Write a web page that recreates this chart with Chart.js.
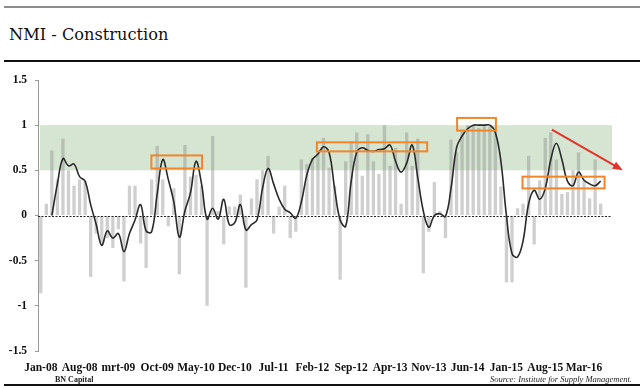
<!DOCTYPE html>
<html>
<head>
<meta charset="utf-8">
<script src="https://cdn.jsdelivr.net/npm/chart.js@4"></script>
<style>
  html, body { margin: 0; padding: 0; background: #fff; }
  #wrap { position: relative; width: 640px; height: 388px; overflow: hidden; }
  #chart { position: absolute; left: 0; top: 0; }
  .rule { position: absolute; left: 4px; right: 0; }
  .title { position: absolute; left: 9px; top: 26px; font: 16.2px "DejaVu Serif", serif; line-height: 18px; color: #111; white-space: nowrap; }
  .brand { position: absolute; left: 55px; top: 375px; font: bold 8px "Liberation Serif", serif; color: #222; }
  .source { position: absolute; right: 8px; top: 374px; font: italic 8.5px "Liberation Serif", serif; color: #222; }
</style>
</head>
<body>
<div id="wrap">
  <div class="rule" style="top:6px;height:2px;background:#8c8c8c"></div>
  <div class="title">NMI - Construction</div>
  <div class="rule" style="top:60px;height:2px;background:#111"></div>
  <canvas id="chart" width="640" height="388"></canvas>
  <div class="brand">BN Capital</div>
  <div class="source">Source: Institute for Supply Management.</div>
  <div class="rule" style="top:384px;height:2px;background:#111"></div>
</div>
<script>
// monthly categories Jan-08 .. Jul-16
const monthNames = ['Jan', 'Feb', 'Mar', 'Apr', 'May', 'Jun', 'Jul', 'Aug', 'Sep', 'Oct', 'Nov', 'Dec'];
const categories = [];
for (let y = 8; y <= 16; y++) {
    monthNames.forEach((m, k) => {
        if (y === 16 && k > 6) return;
        categories.push(m + '-' + String(y).padStart(2, '0'));
    });
}

// labels shown under the axis, one every 7 months
const xTickLabels = ['Jan-08', 'Aug-08', 'mrt-09', 'Oct-09', 'May-10', 'Dec-10', 'Jul-11', 'Feb-12',
    'Sep-12', 'Apr-13', 'Nov-13', 'Jun-14', 'Jan-15', 'Aug-15', 'Mar-16'];
const yTicks = [-1.5, -1, -0.5, 0, 0.5, 1, 1.5];

// monthly index values (grey bars)
const monthly = [
    -0.86, 0.13, 0.72, 0.40, 0.85, 0.50, 0.33, 0.40, 0.38, -0.68,
    -0.20, -0.30, -0.25, -0.36, -0.15, -0.73, 0.33, 0.33, -0.31, -0.58,
    0.40, 0.77, 0.40, -0.12, 0.30, -0.65, 0.78, 0.43, 0.45, 0.33,
    -1.00, 0.88, 0.05, -0.32, 0.10, 0.10, 0.23, -0.80, 0.19, 0.40,
    0.50, 0.66, -0.20, 0.10, 0.33, -0.25, -0.18, 0.62, 0.57, 0.64,
    0.70, 0.86, 0.53, 0.33, -0.71, 0.60, 0.82, 0.92, 0.44, 0.90,
    0.60, 0.46, 1.00, 0.55, 0.75, 0.13, 0.92, 0.55, 0.85, -0.64,
    -0.18, 0.37, 0.05, -0.25, 0.84, 0.70, 0.95, 1.00, 1.00, 0.97,
    1.00, 0.98, 0.95, 0.32, -0.74, -0.74, 0.08, 0.13, 0.66, -0.32,
    0.39, 0.86, 0.92, 0.62, 0.24, 0.26, 0.50, 0.70, 0.39, 0.19,
    0.62, 0.13
];

// smoothed trend (black line)
const trend = [
    null, null, 0.00, 0.35, 0.63, 0.55, 0.57, 0.43, 0.38, 0.12,
    -0.10, -0.33, -0.17, -0.25, -0.20, -0.40, -0.20, -0.05, 0.12, -0.17,
    -0.18, 0.24, 0.62, 0.40, 0.15, -0.24, 0.05, 0.25, 0.60, 0.35,
    -0.04, 0.08, -0.04, 0.18, -0.10, -0.08, 0.12, -0.16, -0.10, -0.05,
    0.30, 0.52, 0.35, 0.18, 0.07, 0.03, -0.03, 0.15, 0.45, 0.62,
    0.68, 0.76, 0.70, 0.30, -0.05, -0.12, 0.38, 0.70, 0.75, 0.72,
    0.71, 0.73, 0.74, 0.78, 0.60, 0.48, 0.58, 0.78, 0.42, 0.05,
    -0.13, 0.00, 0.02, -0.01, 0.30, 0.75, 0.88, 0.96, 1.00, 1.00,
    1.00, 1.00, 0.92, 0.60, 0.00, -0.42, -0.46, -0.28, 0.13, 0.28,
    0.18, 0.30, 0.62, 0.80, 0.62, 0.38, 0.33, 0.48, 0.39, 0.35,
    0.33, 0.38
];

// highlighted zones: [fromIndex, toIndex, low, high]
const boxes = [
    [19.95, 29.1, 0.52, 0.665],
    [49.8, 69.7, 0.71, 0.81],
    [75.1, 82.1, 0.94, 1.08],
    [86.9, 101.7, 0.30, 0.43]
];
const arrow = { from: [92.2, 0.95], to: [105, 0.5] };

const bandPlugin = {
    id: 'band',
    beforeDatasetsDraw(chart) {
        const { ctx, chartArea, scales: { y } } = chart;
        ctx.save();
        ctx.fillStyle = '#d6e5d2';
        ctx.fillRect(chartArea.left + 2, y.getPixelForValue(1), chartArea.right - chartArea.left + 1,
            y.getPixelForValue(0.5) - y.getPixelForValue(1));
        ctx.restore();
    },
    afterDatasetDraw(chart, args) {
        if (args.index !== 1) return;
        const { ctx, chartArea, scales: { y } } = chart;
        const zy = Math.round(y.getPixelForValue(0)) + 0.5;
        ctx.save();
        ctx.strokeStyle = '#222';
        ctx.lineWidth = 1;
        ctx.setLineDash([2, 1.5]);
        ctx.beginPath();
        ctx.moveTo(chartArea.left, zy);
        ctx.lineTo(chartArea.right + 3, zy);
        ctx.stroke();
        ctx.restore();
    }
};

const marksPlugin = {
    id: 'marks',
    afterDraw(chart) {
        const { ctx, scales: { x, y } } = chart;
        ctx.save();
        ctx.strokeStyle = '#f0862a';
        ctx.lineWidth = 2;
        boxes.forEach(b => {
            const x0 = x.getPixelForValue(b[0]), x1 = x.getPixelForValue(b[1]);
            const y0 = y.getPixelForValue(b[3]), y1 = y.getPixelForValue(b[2]);
            ctx.strokeRect(x0, y0, x1 - x0, y1 - y0);
        });

        const ax = x.getPixelForValue(arrow.from[0]), ay = y.getPixelForValue(arrow.from[1]);
        const bx = x.getPixelForValue(arrow.to[0]), by = y.getPixelForValue(arrow.to[1]);
        const ang = Math.atan2(by - ay, bx - ax);
        const head = 11;
        ctx.strokeStyle = '#e3342a';
        ctx.fillStyle = '#e3342a';
        ctx.beginPath();
        ctx.moveTo(ax, ay);
        ctx.lineTo(bx - head * 0.8 * Math.cos(ang), by - head * 0.8 * Math.sin(ang));
        ctx.stroke();
        ctx.beginPath();
        ctx.moveTo(bx, by);
        ctx.lineTo(bx - head * Math.cos(ang - 0.38), by - head * Math.sin(ang - 0.38));
        ctx.lineTo(bx - head * Math.cos(ang + 0.38), by - head * Math.sin(ang + 0.38));
        ctx.closePath();
        ctx.fill();
        ctx.restore();
    }
};

new Chart(document.getElementById('chart'), {
    type: 'bar',
    data: {
        labels: categories,
        datasets: [
            {
                type: 'line',
                label: 'Trend',
                data: trend,
                borderColor: '#2a2a2a',
                borderWidth: 1.6,
                pointRadius: 0,
                tension: 0.4,
                order: 0
            },
            {
                label: 'NMI Construction',
                data: monthly,
                backgroundColor: 'rgba(135,135,135,0.40)',
                barPercentage: 0.6,
                categoryPercentage: 1.0,
                order: 1
            }
        ]
    },
    options: {
        responsive: false,
        devicePixelRatio: 1,
        animation: false,
        layout: { padding: { top: 80, right: 31, bottom: 0, left: 0 } },
        plugins: { legend: { display: false }, tooltip: { enabled: false } },
        scales: {
            x: {
                grid: { display: false, drawTicks: false },
                border: { display: false },
                afterFit: s => { s.height = 37; },
                ticks: {
                    autoSkip: false,
                    maxRotation: 0,
                    padding: 10,
                    color: '#111',
                    font: { family: 'Liberation Serif', weight: 'bold', size: 11.5 },
                    callback: (v, i) => (i % 7 === 0 ? xTickLabels[i / 7] || '' : '')
                }
            },
            y: {
                min: -1.5,
                max: 1.5,
                afterBuildTicks: s => { s.ticks = yTicks.map(v => ({ value: v })); },
                afterFit: s => { s.width = 38; },
                grid: { drawOnChartArea: false, drawTicks: true, tickLength: 3, color: '#9a9a9a' },
                border: { display: true, color: '#9a9a9a', width: 1 },
                ticks: {
                    padding: 8,
                    color: '#111',
                    font: { family: 'Liberation Serif', weight: 'bold', size: 11.5 },
                    callback: v => String(v)
                }
            }
        }
    },
    plugins: [bandPlugin, marksPlugin]
});
</script>
</body>
</html>
